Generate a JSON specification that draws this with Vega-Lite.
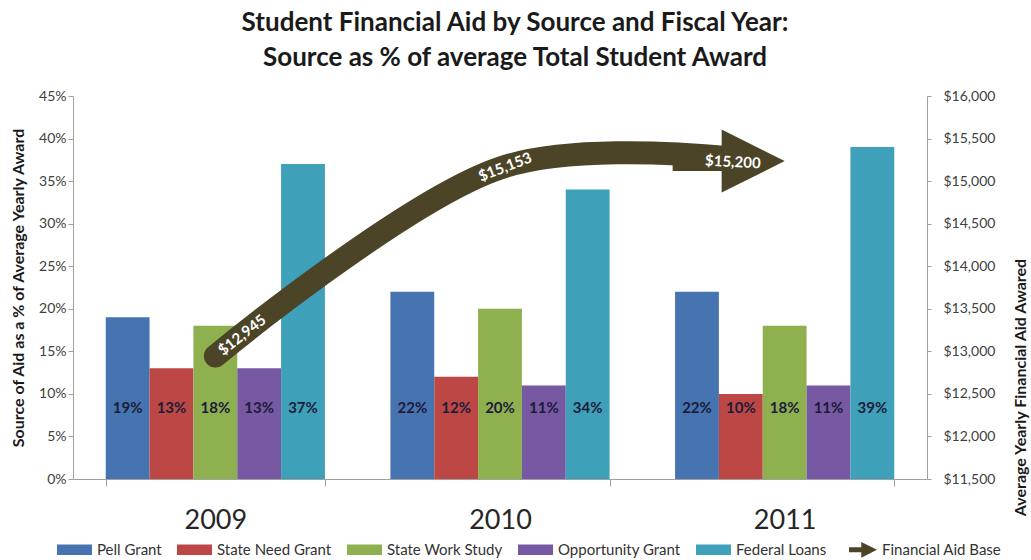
{
  "$schema": "https://vega.github.io/schema/vega-lite/v6.json",
  "width": 854,
  "height": 383,
  "autosize": {"type": "none"},
  "padding": {"left": 73, "top": 96, "right": 104, "bottom": 81},
  "background": "white",
  "title": {
    "text": ["Student Financial Aid by Source and Fiscal Year:", "Source as % of average Total Student Award"],
    "font": "Lato",
    "fontSize": 26,
    "fontWeight": "bold",
    "color": "#1a1a1a",
    "lineHeight": 35,
    "offset": 18,
    "anchor": "middle",
    "dx": 15
  },
  "datasets": {
    "bars": [
      {"year": "2009", "source": "Pell Grant", "pct": 0.19},
      {"year": "2009", "source": "State Need Grant", "pct": 0.13},
      {"year": "2009", "source": "State Work Study", "pct": 0.18},
      {"year": "2009", "source": "Opportunity Grant", "pct": 0.13},
      {"year": "2009", "source": "Federal Loans", "pct": 0.37},
      {"year": "2010", "source": "Pell Grant", "pct": 0.22},
      {"year": "2010", "source": "State Need Grant", "pct": 0.12},
      {"year": "2010", "source": "State Work Study", "pct": 0.20},
      {"year": "2010", "source": "Opportunity Grant", "pct": 0.11},
      {"year": "2010", "source": "Federal Loans", "pct": 0.34},
      {"year": "2011", "source": "Pell Grant", "pct": 0.22},
      {"year": "2011", "source": "State Need Grant", "pct": 0.10},
      {"year": "2011", "source": "State Work Study", "pct": 0.18},
      {"year": "2011", "source": "Opportunity Grant", "pct": 0.11},
      {"year": "2011", "source": "Federal Loans", "pct": 0.39}
    ],
    "base": [
      {"year": 2009, "aid": 12945, "source": "Financial Aid Base"},
      {"year": 2010, "aid": 15153, "source": "Financial Aid Base"},
      {"year": 2011, "aid": 15200, "source": "Financial Aid Base"}
    ]
  },
  "layer": [
    {
      "data": {"name": "bars"},
      "layer": [
        {
          "mark": {"type": "bar"},
          "encoding": {
            "x": {
              "field": "year", "type": "nominal",
              "scale": {"paddingInner": 0.23, "paddingOuter": 0.115},
              "axis": {
                "title": null, "labelAngle": 0, "labelFontSize": 27, "labelColor": "#262626",
                "labelPadding": 21, "tickBand": "extent", "tickSize": 7
              }
            },
            "xOffset": {
              "field": "source", "type": "nominal",
              "scale": {"domain": ["Pell Grant", "State Need Grant", "State Work Study", "Opportunity Grant", "Federal Loans"], "paddingInner": 0, "paddingOuter": 0}
            },
            "y": {
              "field": "pct", "type": "quantitative",
              "scale": {"domain": [0, 0.45], "nice": false},
              "axis": {
                "title": "Source of Aid as a % of Average Yearly Award",
                "format": ".0%",
                "values": [0, 0.05, 0.1, 0.15, 0.2, 0.25, 0.3, 0.35, 0.4, 0.45],
                "labelFontSize": 14, "labelPadding": 2, "tickSize": 5,
                "titleFontSize": 16, "titleFontWeight": "bold", "titlePadding": 12
              }
            },
            "color": {
              "field": "source", "type": "nominal",
              "scale": {
                "domain": ["Pell Grant", "State Need Grant", "State Work Study", "Opportunity Grant", "Federal Loans", "Financial Aid Base"],
                "range": ["#4674B0", "#BC4745", "#8FB04F", "#7758A2", "#3FA0BA", "#4B4427"]
              },
              "legend": {
                "title": null, "orient": "none", "direction": "horizontal",
                "legendX": -17, "legendY": 435,
                "labelFontSize": 15, "labelColor": "#333333", "labelOffset": 4,
                "columnPadding": 14, "symbolSize": 1225, "padding": 0
              }
            }
          }
        },
        {
          "mark": {"type": "text", "font": "Lato", "fontSize": 15, "fontWeight": "bold", "color": "#1c1c3a", "baseline": "middle"},
          "encoding": {
            "x": {"field": "year", "type": "nominal"},
            "xOffset": {"field": "source", "type": "nominal"},
            "y": {"datum": 0.083, "type": "quantitative"},
            "text": {"field": "pct", "type": "quantitative", "format": ".0%"}
          }
        }
      ]
    },
    {
      "layer": [
        {
          "data": {"name": "base"},
          "mark": {"type": "line", "color": "#4B4427", "strokeWidth": 23, "strokeCap": "round", "interpolate": "cardinal", "strokeDash": [576, 3000]},
          "encoding": {
            "x": {"field": "year", "type": "quantitative", "scale": {"domain": [2008.5, 2011.5], "nice": false, "zero": false}, "axis": null},
            "y": {
              "field": "aid", "type": "quantitative",
              "scale": {"domain": [11500, 16000], "nice": false, "zero": false},
              "axis": {
                "orient": "right",
                "title": "Average Yearly Financial Aid Awared",
                "format": "$,d",
                "values": [11500, 12000, 12500, 13000, 13500, 14000, 14500, 15000, 15500, 16000],
                "labelFontSize": 14, "labelPadding": 12, "tickSize": 4,
                "titleFontSize": 16, "titleFontWeight": "bold",
                "titleAngle": -90, "titleX": 93, "titleY": 291, "titleAlign": "center", "titleBaseline": "middle"
              }
            }
          }
        },
        {
          "data": {"name": "base"},
          "transform": [{"filter": "datum.year == 2011"}],
          "mark": {"type": "point", "filled": true, "size": 19600, "opacity": 1, "xOffset": -70, "yOffset": -3},
          "encoding": {
            "x": {"field": "year", "type": "quantitative", "axis": null},
            "y": {"field": "aid", "type": "quantitative"},
            "color": {"field": "source", "type": "nominal"},
            "shape": {
              "field": "source", "type": "nominal",
              "scale": {
                "domain": ["Pell Grant", "State Need Grant", "State Work Study", "Opportunity Grant", "Federal Loans", "Financial Aid Base"],
                "range": ["M-1,-0.3H1V0.3H-1Z", "M-1,-0.3H1V0.3H-1Z", "M-1,-0.3H1V0.3H-1Z", "M-1,-0.3H1V0.3H-1Z", "M-1,-0.3H1V0.3H-1Z", "M-0.6,-0.14H0.1V-0.45L1,0L0.1,0.45V0.14H-0.6Z"]
              }
            }
          }
        },
        {
          "data": {"values": [{"year": 2009.094, "aid": 13192, "label": "$12,945"}]},
          "mark": {"type": "text", "angle": 322, "font": "Lato", "fontSize": 15, "fontWeight": "bold", "color": "white", "baseline": "middle"},
          "encoding": {
            "x": {"field": "year", "type": "quantitative", "axis": null},
            "y": {"field": "aid", "type": "quantitative"},
            "text": {"field": "label"}
          }
        },
        {
          "data": {"values": [{"year": 2010.018, "aid": 15166, "label": "$15,153"}]},
          "mark": {"type": "text", "angle": 339, "font": "Lato", "fontSize": 15, "fontWeight": "bold", "color": "white", "baseline": "middle"},
          "encoding": {
            "x": {"field": "year", "type": "quantitative", "axis": null},
            "y": {"field": "aid", "type": "quantitative"},
            "text": {"field": "label"}
          }
        },
        {
          "data": {"values": [{"year": 2010.818, "aid": 15225, "label": "$15,200"}]},
          "mark": {"type": "text", "angle": 3, "font": "Lato", "fontSize": 15, "fontWeight": "bold", "color": "white", "baseline": "middle"},
          "encoding": {
            "x": {"field": "year", "type": "quantitative", "axis": null},
            "y": {"field": "aid", "type": "quantitative"},
            "text": {"field": "label"}
          }
        }
      ]
    }
  ],
  "resolve": {"scale": {"x": "independent", "y": "independent"}},
  "config": {
    "view": {"stroke": null},
    "font": "Lato",
    "axis": {
      "labelFont": "Lato", "titleFont": "Lato",
      "labelColor": "#404040", "titleColor": "#1a1a1a",
      "domainColor": "#a0a0a0", "tickColor": "#a0a0a0", "grid": false
    },
    "legend": {"labelFont": "Lato"}
  }
}
